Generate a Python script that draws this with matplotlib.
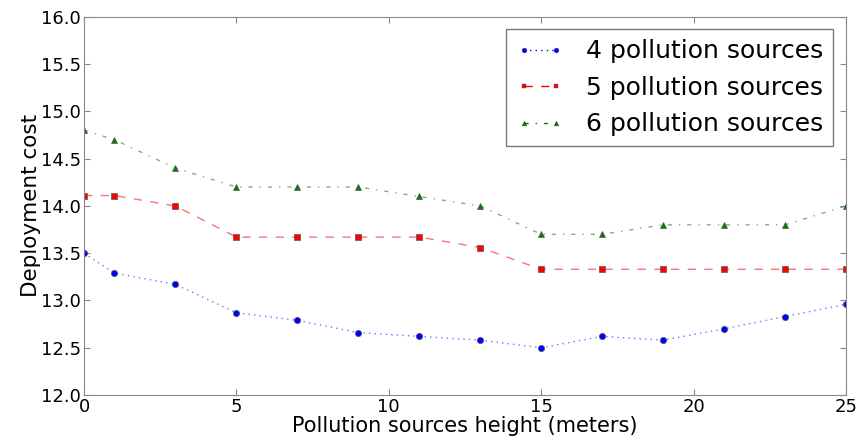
import matplotlib
matplotlib.use("Agg")
import matplotlib.pyplot as plt
from matplotlib.lines import Line2D

# valores
altura = [0, 1, 3, 5, 7, 9, 11, 13, 15, 17, 19, 21, 23, 25]
custo_4 = [13.5, 13.29, 13.17, 12.87, 12.79, 12.66, 12.62, 12.58, 12.5, 12.62, 12.58, 12.7, 12.83, 12.96]
custo_5 = [14.11, 14.11, 14.0, 13.67, 13.67, 13.67, 13.67, 13.56, 13.33, 13.33, 13.33, 13.33, 13.33, 13.33]
custo_6 = [14.8, 14.7, 14.4, 14.2, 14.2, 14.2, 14.1, 14.0, 13.7, 13.7, 13.8, 13.8, 13.8, 14.0]
rotulos = ["4 pollution sources", "5 pollution sources", "6 pollution sources"]

fig = plt.figure(figsize=(8.59, 4.47), dpi=100)
ax = fig.add_axes([0.0978, 0.1163, 0.887, 0.846])

estilos = [("blue", (0, (1, 3)), "o"), ("red", (0, (6, 6)), "s"), ("green", (0, (3, 5, 1, 5)), "^")]
for serie, rotulo, (cor, traco, marca) in zip([custo_4, custo_5, custo_6], rotulos, estilos):
    ax.plot(altura, serie, color=cor, linestyle=traco, linewidth=1, alpha=0.55, label=rotulo)
    ax.plot(altura, serie, linestyle="none", marker=marca, markersize=4.5, color=cor,
            markeredgewidth=0.5, markeredgecolor="#555555")

# legenda com marcadores nas pontas
alcas = [Line2D([], [], color=c, linestyle=t, linewidth=1, marker=m, markersize=3.5,
                markeredgewidth=0.3, markeredgecolor="#555555") for c, t, m in estilos]

ax.set_xlim(0, 25)
ax.set_ylim(12.0, 16.0)
ax.set_xticks([0, 5, 10, 15, 20, 25])
ax.set_yticks([12.0, 12.5, 13.0, 13.5, 14.0, 14.5, 15.0, 15.5, 16.0])
ax.set_yticklabels(["12.0", "12.5", "13.0", "13.5", "14.0", "14.5", "15.0", "15.5", "16.0"])
ax.tick_params(direction="in", length=4, color="#888888", labelsize=13, pad=2,
               top=True, right=True)
for s in ax.spines.values():
    s.set_color("#888888")

ax.set_xlabel("Pollution sources height (meters)", fontsize=15, labelpad=0)
ax.set_ylabel("Deployment cost", fontsize=15.5, labelpad=0)

leg = ax.legend(alcas, rotulos, loc="upper right", fontsize=18, numpoints=2, fancybox=False,
                borderaxespad=0.5, handlelength=1.9,
                labelspacing=0.5, borderpad=0.4, handletextpad=0.9)
leg.get_frame().set_edgecolor("#555555")
leg.get_frame().set_linewidth(1)

fig.savefig("out.png", dpi=100)
